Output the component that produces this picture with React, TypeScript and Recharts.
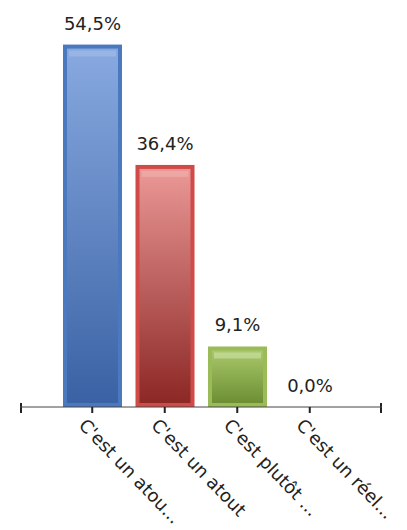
import React from 'react';
import { BarChart, Bar, XAxis, YAxis, Cell, LabelList, ReferenceLine } from 'recharts';

const categories = ["C'est un atout majeur", "C'est un atout", "C'est plutôt un frein", "C'est un réel frein"];
const shortLabels = ["C'est un atou...", "C'est un atout", "C'est plutôt ...", "C'est un réel..."];
const values = [54.5, 36.4, 9.1, 0.0];
const valueLabels = ["54,5%", "36,4%", "9,1%", "0,0%"];

const palettes = [
  { border: '#4a79c0', top: '#88a9e0', bottom: '#3a62a4', hi: '#a9c2ea' },
  { border: '#d04a48', top: '#ea9896', bottom: '#8c2826', hi: '#f2b8b6' },
  { border: '#9bbb59', top: '#a8c86a', bottom: '#6e8e34', hi: '#d8e8b8' },
  { border: '#8064a2', top: '#a58cc4', bottom: '#5c4480', hi: '#c8b8dc' },
];

const data = categories.map((c, i) => ({ name: c, short: shortLabels[i], value: values[i], label: valueLabels[i] }));

const BarShape = (props: any) => {
  const { x, y, width, height, index } = props;
  if (!height || height <= 0) return null;
  const p = palettes[index];
  const b = 4;
  return (
    <g>
      <rect x={x} y={y} width={width} height={height} fill={p.border} />
      <rect x={x + b} y={y + b} width={Math.max(0, width - 2 * b)} height={Math.max(0, height - 2 * b)} fill={`url(#grad${index})`} />
      <rect x={x + b + 2} y={y + b + 2} width={Math.max(0, width - 2 * b - 4)} height={Math.min(6, Math.max(0, height - 2 * b - 4))} fill={p.hi} opacity={0.5} />
    </g>
  );
};

const CatTick = (props: any) => {
  const { x, y, payload, index } = props;
  const txt = shortLabels[index] ?? payload.value;
  return (
    <g transform={`translate(${x - 8},${y + 5})`}>
      <text x={0} y={0} dy={9} transform="rotate(46)" textAnchor="start" fontSize={18} fill="#222" fontFamily="'DejaVu Sans', Verdana, sans-serif">
        {txt}
      </text>
    </g>
  );
};

const EndTicks = (props: any) => {
  const { x1, x2, y1 } = props;
  if (x1 == null || x2 == null || y1 == null) return null;
  const lo = Math.min(x1, x2);
  const hi = Math.max(x1, x2);
  return (
    <g>
      <line x1={lo + 1} x2={lo + 1} y1={y1 - 4} y2={y1 + 6} stroke="#222" strokeWidth={2} />
      <line x1={hi - 1} x2={hi - 1} y1={y1 - 4} y2={y1 + 6} stroke="#222" strokeWidth={2} />
    </g>
  );
};

const ValueLabel = (props: any) => {
  const { x, y, width, index } = props;
  return (
    <text x={x + width / 2} y={y - 15} textAnchor="middle" fontSize={18} fill="#222" fontFamily="'DejaVu Sans', Verdana, sans-serif">
      {valueLabels[index]}
    </text>
  );
};

export default function App() {
  return (
    <div style={{ position: 'absolute', left: 0, top: 0, width: 407, height: 530, background: '#fff' }}>
      <BarChart width={407} height={530} data={data} margin={{ top: 8, right: 25, bottom: 0, left: 20 }} barSize={59}>
        <defs>
          {palettes.map((p, i) => (
            <linearGradient key={i} id={`grad${i}`} x1="0" y1="0" x2="0" y2="1">
              <stop offset="0%" stopColor={p.top} />
              <stop offset="100%" stopColor={p.bottom} />
            </linearGradient>
          ))}
        </defs>
        <YAxis hide domain={[0, 60]} />
        <XAxis
          dataKey="name"
          height={123}
          interval={0}
          padding={{ left: 36, right: 36 }}
          axisLine={{ stroke: '#444', strokeWidth: 1 }}
          tickLine={{ stroke: '#222', strokeWidth: 2 }}
          tickSize={6}
          tick={<CatTick />}
        />
        <Bar dataKey="value" isAnimationActive={false} shape={<BarShape />}>
          {data.map((d, i) => (
            <Cell key={i} fill={palettes[i].border} />
          ))}
          <LabelList dataKey="label" content={<ValueLabel />} />
        </Bar>
        <ReferenceLine y={0} shape={<EndTicks />} />
      </BarChart>
    </div>
  );
}
